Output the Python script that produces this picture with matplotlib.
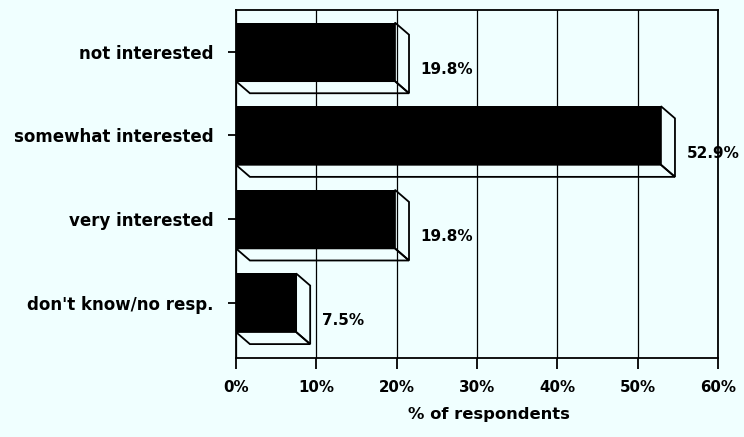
import matplotlib.pyplot as plt
from matplotlib.patches import Polygon
from matplotlib.ticker import FuncFormatter

# survey answers, top to bottom
categories = ['not interested', 'somewhat interested', 'very interested', "don't know/no resp."]
values = [19.8, 52.9, 19.8, 7.5]
value_labels = ['19.8%', '52.9%', '19.8%', '7.5%']

bg = '#f0ffff'
plt.rcParams['font.family'] = ['DejaVu Sans']
plt.rcParams['font.weight'] = 'bold'

fig = plt.figure(figsize=(7.44, 4.37), dpi=100, facecolor=bg)
ax = fig.add_axes([0.317, 0.181, 0.648, 0.796], facecolor=bg)

h = 0.7          # bar thickness
dx, dy = 1.75, 0.145   # depth of the 3d extrusion (data units)
ypos = list(range(len(categories)))

ax.barh(ypos, values, height=h, color='black', zorder=3)

for y, v, lab in zip(ypos, values, value_labels):
    top, bot = y - h / 2, y + h / 2
    side = Polygon([(v, top), (v + dx, top + dy), (v + dx, bot + dy), (v, bot)],
                   closed=True, facecolor='none', edgecolor='black', lw=1.3, zorder=4)
    floor = Polygon([(0, bot), (v, bot), (v + dx, bot + dy), (dx, bot + dy)],
                    closed=True, facecolor='none', edgecolor='black', lw=1.3, zorder=4)
    ax.add_patch(side)
    ax.add_patch(floor)
    ax.annotate(lab, (v + dx, y + 0.21), xytext=(8.5, 0), textcoords='offset points',
                ha='left', va='center', fontsize=11, fontweight='bold')

ax.set_xlim(0, 60)
ax.set_ylim(3.66, -0.5)
ax.set_xticks(range(0, 61, 10))
ax.xaxis.set_major_formatter(FuncFormatter(lambda x, _: f'{x:.0f}%'))
ax.set_yticks(ypos)
ax.set_yticklabels(categories)
ax.grid(axis='x', color='black', lw=0.9, zorder=1)
ax.tick_params(axis='x', length=8, width=1.3, pad=8, labelsize=10.8)
ax.tick_params(axis='y', length=6, width=1.3, pad=10, labelsize=12)
for s in ax.spines.values():
    s.set_linewidth(1.3)

ax.set_xlabel('% of respondents', fontsize=11.8, fontweight='bold')
ax.xaxis.set_label_coords(0.525, -0.14)

fig.savefig('out.png', dpi=100, facecolor=bg)
